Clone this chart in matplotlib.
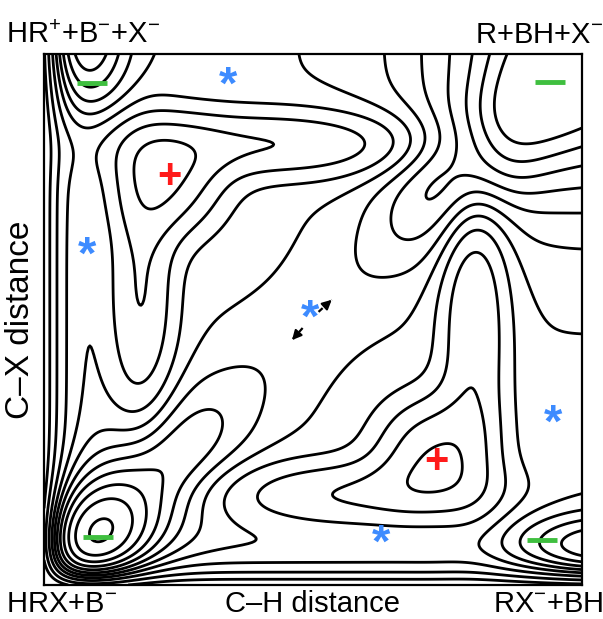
import numpy as np
import matplotlib.pyplot as plt

plt.rcParams['font.family'] = ['Liberation Sans', 'DejaVu Sans']
plt.rcParams['mathtext.fontset'] = 'custom'
plt.rcParams['mathtext.rm'] = 'Liberation Sans'

# stationary points of the surface (x = C-H distance, y = C-X distance, 0..1)
minima_x = [0.10, 0.94, 0.09, 0.926]
minima_y = [0.09, 0.947, 0.945, 0.085]
maxima_x = [0.234, 0.73]
maxima_y = [0.768, 0.232]
saddle_x = [0.342, 0.08, 0.494, 0.946, 0.626]
saddle_y = [0.938, 0.618, 0.499, 0.301, 0.075]

# ends of the dashed double arrow through the central saddle
arrow_x = [0.461, 0.535]
arrow_y = [0.461, 0.537]

# wells and hills used to build the energy surface: x, y, height, width x, width y, angle
wells = [
    (0.09, 0.08, -0.45, 0.08, 0.08, 0),
    (1.02, 1.02, -0.85, 0.20, 0.20, 0),
    (0.07, 1.04, -0.55, 0.06, 0.10, 0),
    (1.04, 0.065, -0.55, 0.12, 0.05, 0),
    (0.15, 0.15, -0.45, 0.22, 0.07, 45),
    (0.85, 0.85, -0.45, 0.22, 0.07, 45),
]
hills = [
    (0.23, 0.76, 0.60, 0.07, 0.07, 0),
    (0.42, 0.83, 0.45, 0.22, 0.045, 0),
    (0.18, 0.55, 0.45, 0.045, 0.18, 0),
    (0.72, 0.25, 0.60, 0.07, 0.07, 0),
    (0.80, 0.50, 0.45, 0.045, 0.22, 0),
    (0.58, 0.17, 0.45, 0.18, 0.045, 0),
]
wall_height = 1.0
wall_width = 0.03

levels = [-0.75, -0.6, -0.47, -0.35, -0.24, -0.13, -0.02, 0.1, 0.25, 0.45, 0.7]

corner_labels = [r'HR$^{+}$+B$^{-}$+X$^{-}$', r'R+BH+X$^{-}$', r'HRX+B$^{-}$', r'RX$^{-}$+BH']


def bump(X, Y, x0, y0, a, sx, sy, ang):
    t = np.radians(ang)
    u = (X - x0) * np.cos(t) + (Y - y0) * np.sin(t)
    v = -(X - x0) * np.sin(t) + (Y - y0) * np.cos(t)
    return a * np.exp(-(u ** 2 / (2 * sx ** 2) + v ** 2 / (2 * sy ** 2)))


g = np.linspace(0, 1, 400)
X, Y = np.meshgrid(g, g)
Z = wall_height * (np.exp(-X / wall_width) + np.exp(-Y / wall_width))
for p in wells + hills:
    Z += bump(X, Y, *p)

fig = plt.figure(figsize=(6.03, 6.19), dpi=100)
ax = fig.add_axes([0.073, 0.055, 0.892, 0.858])
cs = ax.contour(X, Y, Z, levels=levels, colors='black', linewidths=2, linestyles='solid')

ax.plot(minima_x, minima_y, ls='none', marker='_', ms=22, mew=3.5, color='#3fbf3f')
for x, y in zip(maxima_x, maxima_y):
    ax.text(x, y, '+', color='#ff1a1a', fontsize=30, ha='center', va='center', fontweight='bold')
for x, y in zip(saddle_x, saddle_y):
    ax.text(x, y, '*', color='#3d8bff', fontsize=34, ha='center', va='center', fontweight='bold')

# dashed double arrow along the diagonal
cx, cy = saddle_x[2], saddle_y[2]
for hx, hy in zip(arrow_x, arrow_y):
    ax.plot([cx + 0.4 * (hx - cx), hx], [cy + 0.4 * (hy - cy), hy],
            color='black', lw=1.6, ls=(0, (2.5, 1.5)))
    ax.annotate('', xy=(hx, hy), xytext=(hx - 0.25 * (hx - cx), hy - 0.25 * (hy - cy)),
                arrowprops=dict(arrowstyle='-|>', color='black', lw=1.5,
                                mutation_scale=14, shrinkA=0, shrinkB=0))

ax.set_xlim(0, 1)
ax.set_ylim(0, 1)
ax.set_xticks([])
ax.set_yticks([])
for s in ax.spines.values():
    s.set_linewidth(1.6)

ax.set_ylabel('C–X distance', fontsize=24, labelpad=6)
ax.text(0.5, -0.05, 'C–H distance', transform=ax.transAxes, fontsize=21, ha='center', va='baseline')
ax.text(-0.07, 1.021, corner_labels[0], transform=ax.transAxes, fontsize=21, ha='left', va='baseline')
ax.text(1.04, 1.021, corner_labels[1], transform=ax.transAxes, fontsize=21, ha='right', va='baseline')
ax.text(-0.07, -0.05, corner_labels[2], transform=ax.transAxes, fontsize=21, ha='left', va='baseline')
ax.text(1.04, -0.05, corner_labels[3], transform=ax.transAxes, fontsize=21, ha='right', va='baseline')

fig.savefig('out.png', dpi=100)
